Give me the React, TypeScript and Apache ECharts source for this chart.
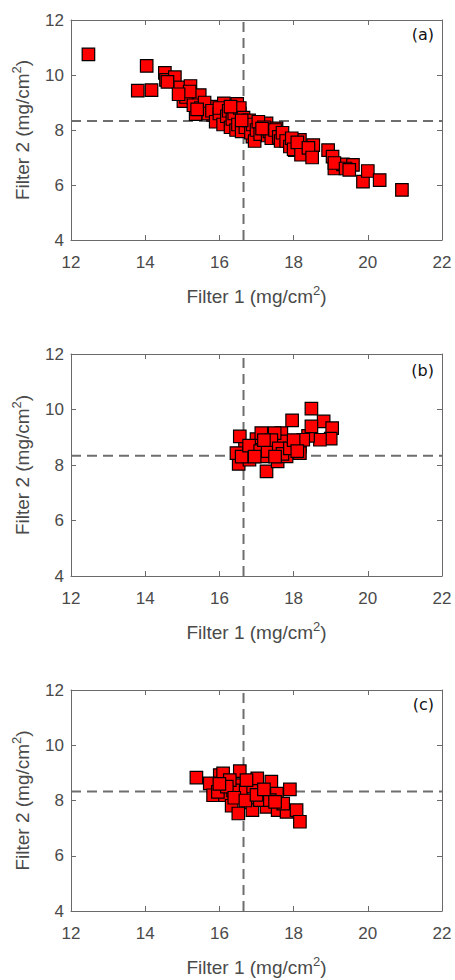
import React, { useEffect, useRef } from "react";
import * as echarts from "echarts";

// Panel (a): Filter 1 vs Filter 2 (mg/cm2)
const panelA: [number, number][] = [
  [12.47, 10.75], [14.04, 10.33], [13.8, 9.43], [14.17, 9.45], [14.53, 10.08],
  [14.56, 9.82], [14.8, 9.92], [14.94, 9.55], [15.03, 9.05], [15.22, 9.6],
  [15.36, 8.58], [15.45, 9.09], [15.47, 9.27], [15.77, 8.85], [15.83, 8.55],
  [16.12, 8.97], [16.1, 8.4], [16.48, 8.95], [16.55, 8.6], [16.73, 8.27],
  [16.89, 7.76], [17.27, 8.24], [17.45, 7.88], [17.54, 8.06], [17.9, 7.52],
  [18.03, 7.27], [18.17, 7.64], [18.44, 7.15], [18.53, 7.45], [18.93, 7.27],
  [19.05, 7.03], [19.1, 6.6], [19.33, 6.75], [19.6, 6.73], [19.87, 6.12],
  [20.0, 6.51], [20.32, 6.18], [20.92, 5.82],
  [15.1, 9.2], [15.2, 9.4], [15.3, 8.9], [15.5, 8.8], [15.6, 9.0], [15.7, 8.6],
  [15.8, 8.7], [15.9, 8.3], [16.0, 8.6], [16.0, 8.8], [16.1, 8.2], [16.2, 8.5],
  [16.25, 8.7], [16.3, 8.1], [16.35, 8.4], [16.4, 8.6], [16.45, 8.0], [16.5, 8.2],
  [16.55, 8.8], [16.6, 7.95], [16.65, 8.45], [16.7, 8.1], [16.8, 8.35], [16.85, 7.9],
  [16.9, 8.2], [16.95, 7.6], [17.0, 8.0], [17.05, 8.3], [17.1, 7.85], [17.2, 8.1],
  [17.3, 7.8], [17.35, 7.95], [17.4, 7.7], [17.5, 8.0], [17.6, 7.75], [17.65, 7.6],
  [17.7, 7.9], [17.8, 7.6], [17.9, 7.4], [17.95, 7.7], [18.0, 7.3], [18.1, 7.55],
  [18.2, 7.1], [18.4, 7.35], [18.5, 7.0], [19.1, 6.8], [19.4, 6.6], [19.5, 6.55],
  [14.6, 9.75], [14.9, 9.3], [15.4, 8.75], [16.3, 8.85], [16.6, 8.35], [17.15, 8.05],
];

// Panel (b)
const panelB: [number, number][] = [
  [18.48, 10.03], [18.81, 9.57], [17.96, 9.61], [19.04, 9.33], [19.0, 8.95],
  [18.71, 8.91], [18.39, 9.05], [18.48, 9.39], [16.55, 9.03], [16.52, 8.04],
  [16.69, 8.58], [17.0, 8.93], [17.27, 8.73], [17.18, 8.31], [17.27, 7.77],
  [17.57, 8.13], [17.99, 8.73], [17.67, 9.15], [17.72, 8.85], [16.46, 8.43],
  [16.81, 8.19], [17.81, 8.31], [18.17, 8.67], [18.26, 8.91], [17.49, 9.15],
  [17.13, 9.15], [16.91, 8.55], [18.17, 8.43],
  [16.6, 8.3], [16.8, 8.7], [17.1, 8.5], [17.3, 8.5], [17.4, 8.9], [17.6, 8.6],
  [17.7, 8.4], [17.9, 8.6], [18.0, 8.9], [17.2, 8.9], [16.95, 8.3], [17.5, 8.3],
  [18.1, 8.5],
];

// Panel (c)
const panelC: [number, number][] = [
  [15.38, 8.83], [16.55, 9.06], [16.01, 8.92], [16.1, 8.98], [15.74, 8.62],
  [15.83, 8.19], [16.15, 8.19], [16.33, 7.81], [16.55, 8.56], [16.6, 8.31],
  [16.78, 7.93], [16.89, 7.65], [16.91, 8.5], [17.02, 8.8], [17.27, 7.77],
  [17.4, 8.68], [17.55, 8.25], [17.57, 7.65], [17.9, 8.4], [17.81, 7.59],
  [18.08, 7.65], [18.17, 7.23], [17.16, 8.13], [16.37, 8.37], [16.28, 8.74],
  [16.73, 8.74], [17.09, 8.01], [17.72, 7.89], [17.36, 8.01], [16.51, 7.53],
  [15.96, 8.31],
  [16.2, 8.5], [16.4, 8.1], [16.7, 8.0], [17.0, 8.2], [17.2, 8.4], [17.5, 7.95],
  [16.0, 8.6],
];

const panelLabels = ["(a)", "(b)", "(c)"];
const xTicks = [12, 14, 16, 18, 20, 22];
const yTicks = [4, 6, 8, 10, 12];
const thresholdX = 16.65;
const thresholdY = 8.33;
const xTitle = "Filter 1 (mg/cm{sup|2})";
const yTitle = "Filter 2 (mg/cm{sup|2})";

const panels = [panelA, panelB, panelC];
const gridTops = [20, 354, 690];
const gridHeights = [220, 222, 221];
const labelYs = [36, 372, 706];

export default function App() {
  const ref = useRef<HTMLDivElement>(null);
  useEffect(() => {
    if (!ref.current) return;
    const chart = echarts.init(ref.current, undefined, { renderer: "svg" });
    const axisColor = "#6a6a6a";
    const labelColor = "#4a4a4a";
    const font = "'Liberation Sans', Arial, sans-serif";
    const nameStyle = {
      color: labelColor,
      fontSize: 19,
      fontWeight: "normal",
      fontFamily: font,
      lineHeight: 24,
      rich: {
        sup: {
          color: labelColor,
          fontSize: 13,
          fontFamily: font,
          verticalAlign: "top",
          lineHeight: 14,
        },
      },
    };
    const grid: any[] = [];
    const xAxis: any[] = [];
    const yAxis: any[] = [];
    const series: any[] = [];
    const graphic: any[] = [];
    panels.forEach((pts, i) => {
      grid.push({ left: 71, right: 13, top: gridTops[i], height: gridHeights[i] });
      const baseX = {
        type: "value",
        gridIndex: i,
        min: xTicks[0],
        max: xTicks[xTicks.length - 1],
        interval: 2,
        splitLine: { show: false },
        axisLine: { show: true, onZero: false, lineStyle: { color: axisColor, width: 1 } },
        axisTick: { show: true, inside: true, length: 5, lineStyle: { color: axisColor } },
      };
      xAxis.push({
        ...baseX,
        position: "bottom",
        name: xTitle,
        nameLocation: "middle",
        nameGap: 44,
        nameTextStyle: nameStyle,
        axisLabel: { color: labelColor, fontSize: 17, margin: 14, fontFamily: font },
      });
      xAxis.push({ ...baseX, position: "top", axisLabel: { show: false } });
      const baseY = {
        type: "value",
        gridIndex: i,
        min: yTicks[0],
        max: yTicks[yTicks.length - 1],
        interval: 2,
        splitLine: { show: false },
        axisLine: { show: true, onZero: false, lineStyle: { color: axisColor, width: 1 } },
        axisTick: { show: true, inside: true, length: 5, lineStyle: { color: axisColor } },
      };
      yAxis.push({
        ...baseY,
        position: "left",
        name: yTitle,
        nameLocation: "middle",
        nameGap: 35,
        nameRotate: 90,
        nameTextStyle: nameStyle,
        axisLabel: { color: labelColor, fontSize: 17, margin: 7, fontFamily: font },
      });
      yAxis.push({ ...baseY, position: "right", axisLabel: { show: false } });

      const dash = { color: "#6e6e6e", width: 2, type: [10, 6] };
      series.push({
        type: "line",
        xAxisIndex: i * 2,
        yAxisIndex: i * 2,
        data: [[thresholdX, yTicks[0]], [thresholdX, yTicks[yTicks.length - 1]]],
        symbol: "none",
        lineStyle: dash,
        silent: true,
        z: 1,
      });
      series.push({
        type: "line",
        xAxisIndex: i * 2,
        yAxisIndex: i * 2,
        data: [[xTicks[0], thresholdY], [xTicks[xTicks.length - 1], thresholdY]],
        symbol: "none",
        lineStyle: dash,
        silent: true,
        z: 1,
      });
      series.push({
        type: "scatter",
        xAxisIndex: i * 2,
        yAxisIndex: i * 2,
        data: pts,
        symbol: "rect",
        symbolSize: 12.5,
        itemStyle: { color: "#ff0000", borderColor: "#000000", borderWidth: 1.2, opacity: 1 },
        z: 2,
      });
      graphic.push({
        type: "text",
        right: 21,
        top: labelYs[i] - 10,
        style: {
          text: panelLabels[i],
          fill: "#111",
          font: "16px 'DejaVu Sans', sans-serif",
        },
      });
    });
    chart.setOption({
      animation: false,
      backgroundColor: "#ffffff",
      grid,
      xAxis,
      yAxis,
      series,
      graphic,
    });
    return () => chart.dispose();
  }, []);
  return (
    <div
      ref={ref}
      style={{ position: "fixed", left: 0, top: 0, width: 455, height: 980, background: "#fff" }}
    />
  );
}
